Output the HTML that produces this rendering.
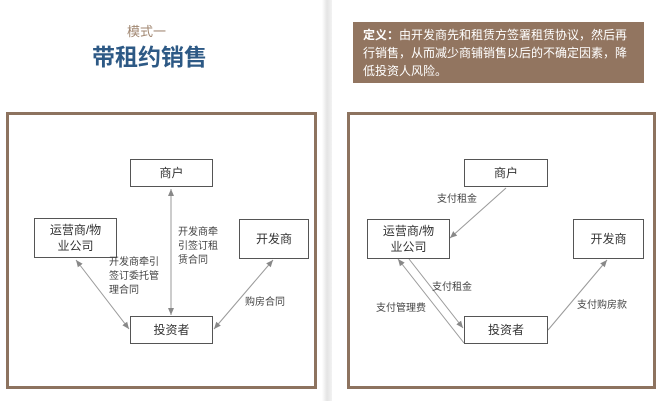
<!DOCTYPE html>
<html><head><meta charset="utf-8"><style>
body{margin:0;width:660px;height:401px;background:#fff;overflow:hidden;font-family:"Liberation Sans","Noto Sans CJK SC",sans-serif;position:relative}
.a{position:absolute}
.gut{left:322px;top:0;width:10px;height:401px;background:linear-gradient(90deg,#fff,#e4e4e4 50%,#f2f2f2)}
.frame{border:3px solid #8d735f;box-sizing:border-box;background:#fff}
.box{border:1px solid #555;box-sizing:border-box;background:#fff;display:flex;align-items:center;justify-content:center;text-align:center;font-size:12px;color:#333;line-height:16px}
.lbl{font-size:10px;color:#444;line-height:14px}
</style></head><body>
<div class="a gut"></div>
<div class="a" style="left:127px;top:21px;font-size:13px;color:#a08670;">模式一</div>
<div class="a" style="left:92px;top:38px;font-size:23px;font-weight:bold;color:#2d5985;letter-spacing:0px">带租约销售</div>
<div class="a" style="left:353px;top:22px;width:291px;height:61px;background:#927560;color:#fff;font-size:12px;line-height:18px;padding:4px 0 0 10px;box-sizing:border-box;white-space:nowrap"><b>定义：</b>由开发商先和租赁方签署租赁协议，然后再<br>行销售，从而减少商铺销售以后的不确定因素，降<br>低投资人风险。</div>

<div class="a frame" style="left:6px;top:112px;width:311px;height:277px"></div>
<div class="a frame" style="left:347px;top:112px;width:309px;height:277px"></div>

<svg class="a" style="left:0;top:0" width="660" height="401">
<defs><marker id="m" markerWidth="8" markerHeight="8" refX="7" refY="4" orient="auto-start-reverse" markerUnits="userSpaceOnUse"><path d="M0,1 L7,4 L0,7 z" fill="#888"/></marker></defs>
<g stroke="#999" stroke-width="1" fill="none">
<line x1="171" y1="189" x2="171" y2="315" marker-start="url(#m)" marker-end="url(#m)"/>
<line x1="76" y1="260" x2="129" y2="329" marker-start="url(#m)" marker-end="url(#m)"/>
<line x1="273" y1="260" x2="214" y2="329" marker-start="url(#m)" marker-end="url(#m)"/>
<line x1="506" y1="188" x2="450" y2="238" marker-end="url(#m)"/>
<line x1="409" y1="259" x2="463" y2="328" marker-end="url(#m)"/>
<line x1="464" y1="343" x2="398" y2="259" marker-end="url(#m)"/>
<line x1="548" y1="330" x2="607" y2="260" marker-end="url(#m)"/>
</g></svg>

<div class="a box" style="left:130px;top:159px;width:83px;height:28px">商户</div>
<div class="a box" style="left:34px;top:218px;width:83px;height:40px">运营商/物<br>业公司</div>
<div class="a box" style="left:239px;top:219px;width:70px;height:40px">开发商</div>
<div class="a box" style="left:130px;top:316px;width:83px;height:28px">投资者</div>
<div class="a lbl" style="left:178px;top:226px">开发商牵<br>引签订租<br>赁合同</div>
<div class="a lbl" style="left:109px;top:256px">开发商牵引<br>签订委托管<br>理合同</div>
<div class="a lbl" style="left:245px;top:296px">购房合同</div>

<div class="a box" style="left:464px;top:159px;width:84px;height:28px">商户</div>
<div class="a box" style="left:367px;top:219px;width:83px;height:40px">运营商/物<br>业公司</div>
<div class="a box" style="left:573px;top:219px;width:71px;height:40px">开发商</div>
<div class="a box" style="left:464px;top:316px;width:84px;height:28px">投资者</div>
<div class="a lbl" style="left:437px;top:193px">支付租金</div>
<div class="a lbl" style="left:432px;top:281px">支付租金</div>
<div class="a lbl" style="left:376px;top:302px">支付管理费</div>
<div class="a lbl" style="left:577px;top:299px">支付购房款</div>
</body></html>
